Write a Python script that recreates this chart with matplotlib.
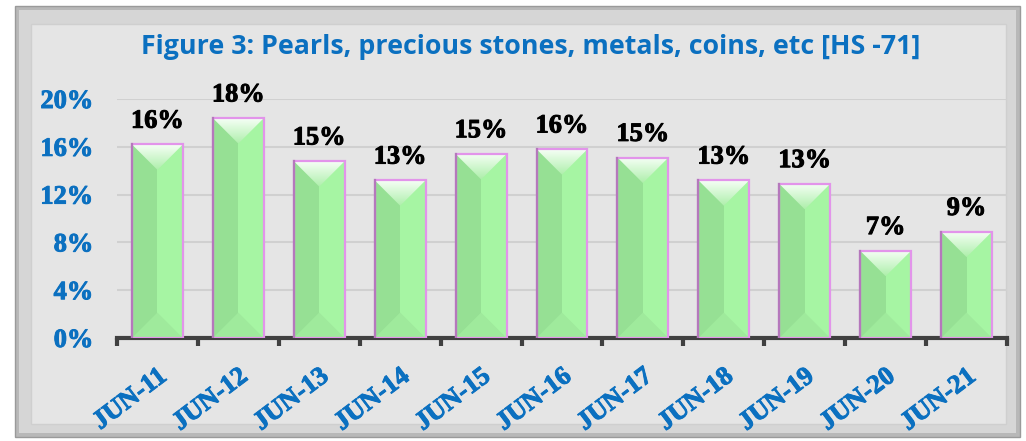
import numpy as np
import matplotlib.pyplot as plt
import matplotlib.patheffects as pe
from matplotlib.colors import LinearSegmentedColormap
from matplotlib.patches import Rectangle, Polygon

# data
years = ["JUN-11", "JUN-12", "JUN-13", "JUN-14", "JUN-15", "JUN-16",
         "JUN-17", "JUN-18", "JUN-19", "JUN-20", "JUN-21"]
share = [16.2, 18.4, 14.8, 13.2, 15.4, 15.8, 15.1, 13.2, 12.9, 7.3, 8.9]
yticks = [0, 4, 8, 12, 16, 20]

blue = "#0b70c0"
serif = ["Liberation Serif", "DejaVu Serif"]

def heavy(c):
    # the reference text is drawn heavier than plain bold
    return [pe.withStroke(linewidth=0.7, foreground=c)]

fig = plt.figure(figsize=(10.26, 4.41), dpi=100)
fig.patch.set_facecolor("white")

# beveled grey frame round the chart
W, H = 1026.0, 441.0
fig.patches.append(Rectangle((15 / W, 4 / H), 1005 / W, 431 / H, transform=fig.transFigure,
                             facecolor="#b8b8b8", edgecolor="#9a9a9a", lw=1, zorder=-10))
fig.patches.append(Rectangle((19 / W, 8 / H), 997 / W, 423 / H, transform=fig.transFigure,
                             facecolor="#d6d6d6", edgecolor="none", zorder=-9))
fig.patches.append(Rectangle((31 / W, 17 / H), 975 / W, 400 / H, transform=fig.transFigure,
                             facecolor="#e5e5e5", edgecolor="#cfcfcf", lw=1, zorder=-8))

ax = fig.add_axes([0.114, 0.2336, 0.8675, 0.5419])
ax.set_facecolor("none")
x = np.arange(len(years))
bw = 0.63
bars = ax.bar(x, share, width=bw, color="#a6f5a3", edgecolor="none", zorder=3)

ax.set_xlim(-0.5, len(years) - 0.5)
ax.set_ylim(0, 20)

# bevel look on every bar, sized from the bar itself
bb = ax.get_position()
px_x = bb.width * W / len(years)
px_y = bb.height * H / 20.0
topmap = LinearSegmentedColormap.from_list("g", ["#aeefab", "#f6fff6"])
for b in bars:
    x0, w, h = b.get_x(), b.get_width(), b.get_height()
    d = (w / 2) * px_x / px_y
    ax.add_patch(Rectangle((x0, 0), w / 2, h, facecolor="#96e094", edgecolor="none", zorder=3.1))
    top = Polygon([(x0, h), (x0 + w, h), (x0 + w / 2, h - d)], closed=True,
                  facecolor="none", edgecolor="none", zorder=3.2)
    ax.add_patch(top)
    grad = np.linspace(0, 1, 50).reshape(-1, 1)
    im = ax.imshow(grad, extent=(x0, x0 + w, h - d, h), cmap=topmap,
                   aspect="auto", zorder=3.2, origin="lower")
    im.set_clip_path(top)
    ax.add_patch(Polygon([(x0, 0), (x0 + w, 0), (x0 + w / 2, d)], closed=True,
                         facecolor="#9fea9c", edgecolor="none", zorder=3.2))
    ax.add_patch(Rectangle((x0, 0), w, h, facecolor="none", edgecolor="#e294ea", lw=1.6, zorder=3.3))
    ax.plot([x0, x0], [0, h], color="#b578bc", lw=1.6, zorder=3.4)
    ax.annotate(f"{round(h)}%", (x0 + w / 2, h), xytext=(0, 12), textcoords="offset points",
                ha="center", va="baseline", fontsize=19, fontweight="bold",
                family=serif, color="black", zorder=5, path_effects=heavy("black"))

ax.set_xlim(-0.5, len(years) - 0.5)
ax.set_ylim(0, 20)

ax.set_yticks(yticks)
ax.set_yticklabels([f"{t}%" for t in yticks], fontsize=19, fontweight="bold",
                   family=serif, color=blue)
for t in ax.get_yticklabels():
    t.set_path_effects(heavy(blue))
ax.tick_params(axis="y", length=0, pad=17)
ax.yaxis.grid(True, color="#d0d0d0", lw=1.5, zorder=0)
ax.set_axisbelow(True)

ax.set_xticks(x)
ax.set_xticklabels(years, rotation=37, ha="right", rotation_mode="anchor",
                   fontsize=19, fontweight="bold", family=serif, color=blue)
for t in ax.get_xticklabels():
    t.set_path_effects(heavy(blue))
ax.tick_params(axis="x", which="major", length=0, pad=19)
ax.set_xticks(np.arange(-0.5, len(years), 1), minor=True)
ax.tick_params(axis="x", which="minor", length=6, width=3, color="#404040", direction="out")

for s in ["left", "right", "top"]:
    ax.spines[s].set_visible(False)
ax.spines["bottom"].set_color("#404040")
ax.spines["bottom"].set_linewidth(3)

fig.text(0.5175, 0.893, "Figure 3: Pearls, precious stones, metals, coins, etc [HS -71]",
         ha="center", va="center", fontsize=19.3, fontweight="bold",
         family=["Open Sans", "DejaVu Sans"], color=blue)

fig.savefig("out.png", dpi=100)
